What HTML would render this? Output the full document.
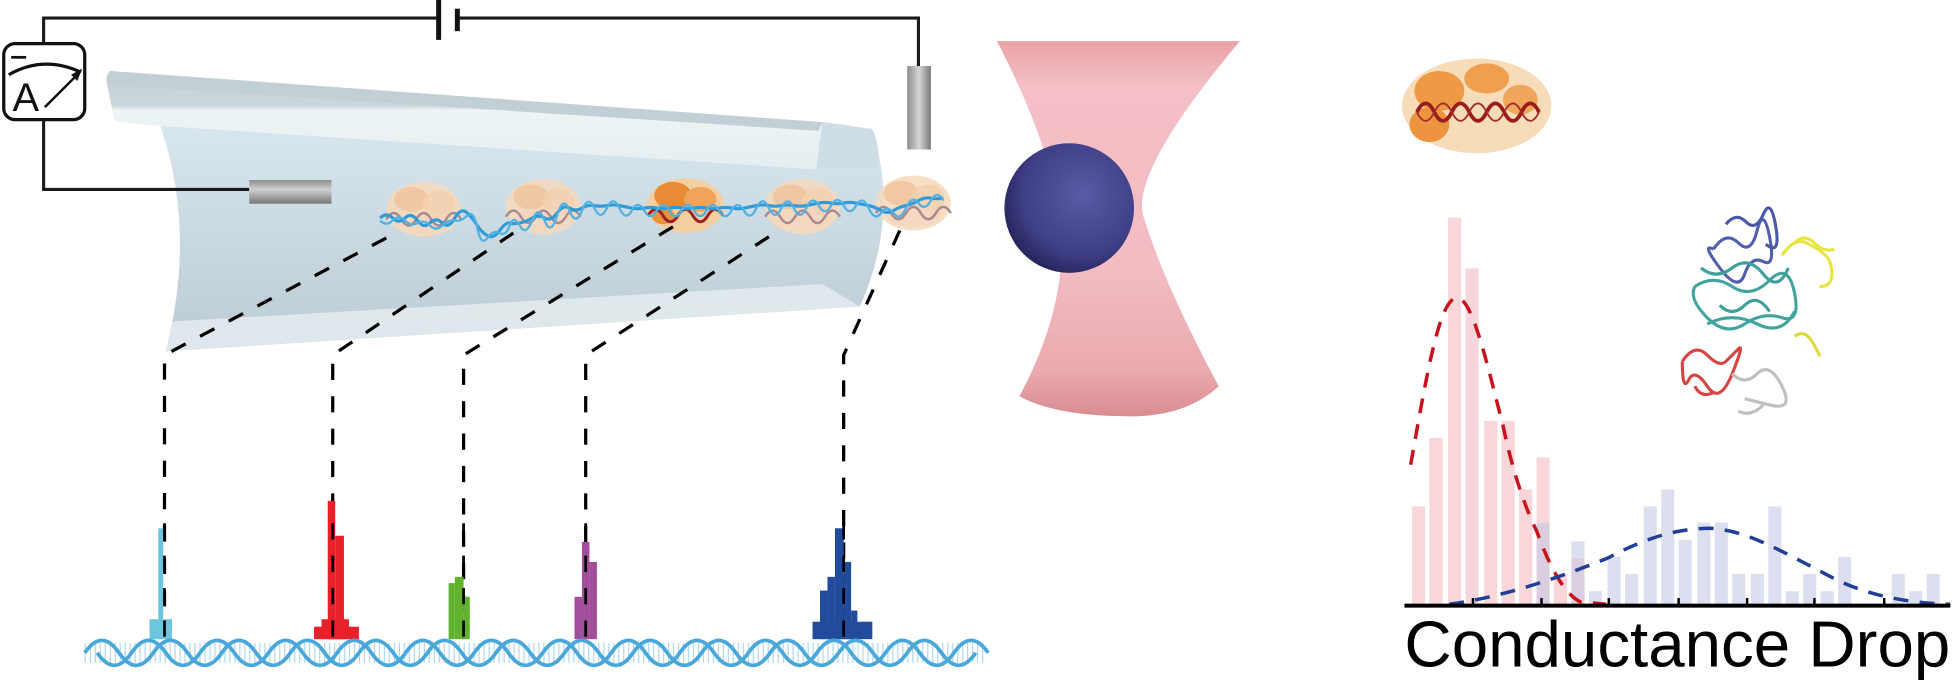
<!DOCTYPE html>
<html><head><meta charset="utf-8"><style>html,body{margin:0;padding:0;background:#fff}svg{display:block}</style></head>
<body>
<svg width="1954" height="689" viewBox="0 0 1568 553" preserveAspectRatio="none" xmlns="http://www.w3.org/2000/svg">
<defs>
<linearGradient id="body" x1="0" y1="0" x2="0" y2="1"><stop offset="0" stop-color="#d8e6ee"/><stop offset="1" stop-color="#bccbd3"/></linearGradient>
<linearGradient id="rim" x1="0" y1="0" x2="0" y2="1"><stop offset="0" stop-color="#c4d1d6"/><stop offset="0.35" stop-color="#c9d6db"/><stop offset="0.4" stop-color="#eef4f5"/><stop offset="1" stop-color="#e4eef0"/></linearGradient>
<linearGradient id="elec" x1="0" y1="0" x2="0" y2="1"><stop offset="0" stop-color="#8d8d8d"/><stop offset="0.4" stop-color="#d0d0d0"/><stop offset="1" stop-color="#777"/></linearGradient>
<linearGradient id="elecv" x1="0" y1="0" x2="1" y2="0"><stop offset="0" stop-color="#8d8d8d"/><stop offset="0.5" stop-color="#d6d6d6"/><stop offset="1" stop-color="#7a7a7a"/></linearGradient>
<linearGradient id="beam" x1="0" y1="0" x2="0" y2="1"><stop offset="0" stop-color="#e9a3a7"/><stop offset="0.12" stop-color="#f4bfc6"/><stop offset="0.6" stop-color="#f3bcc3"/><stop offset="0.88" stop-color="#eaaaae"/><stop offset="1" stop-color="#d98c90"/></linearGradient>
<radialGradient id="bead" cx="0.6" cy="0.4" r="0.65"><stop offset="0" stop-color="#5a5aa6"/><stop offset="0.7" stop-color="#3f3f86"/><stop offset="1" stop-color="#24245a"/></radialGradient>
<g id="nuc">
<ellipse cx="0" cy="0" rx="30" ry="22" fill="#f6d9bc" opacity="0.85"/>
<ellipse cx="-10" cy="-8" rx="14" ry="10" fill="#efc29a" opacity="0.8"/>
<ellipse cx="12" cy="-4" rx="13" ry="11" fill="#f2cfae" opacity="0.8"/>
<ellipse cx="0" cy="10" rx="22" ry="9" fill="#f4d6bd" opacity="0.8"/>
<path d="M-30 8 q6 -10 12 0 q6 10 12 0 q6 -10 12 0 q6 10 12 0 q6 -10 12 0" fill="none" stroke="#a98a90" stroke-width="2"/>
</g>
</defs>

<!-- tube -->
<path d="M128 99 Q158 185 133 282 L690 246 Q722 175 700 103 Z" fill="url(#body)"/>
<path d="M133 282 L690 246 L660 228 L138 258 Z" fill="#e6eef0" opacity="0.8"/>
<path d="M88 57 Q84 62 86 68 L92 97 Q110 100 128 101 L655 136 L660 98 Z" fill="url(#rim)"/>
<path d="M88 57 L660 98 L657 105 L86 68 Z" fill="#c2cfd4"/>
<path d="M655 136 L660 98 Q680 100 700 104 Q706 115 705 135 Z" fill="#cfdde4"/>

<!-- circuit -->
<g stroke="#1a1a1a" fill="none" stroke-width="2.5">
<polyline points="35,35 35,14.5 352,14.5"/>
<polyline points="367,14.5 737,14.5 737,54"/>
<polyline points="35,96 35,152 200,152"/>
</g>
<rect x="350" y="0" width="4" height="32" fill="#111"/>
<rect x="365" y="7" width="4" height="18" fill="#111"/>
<rect x="3" y="35" width="65" height="61" rx="9" fill="#fff" stroke="#111" stroke-width="2.6"/>
<line x1="9" y1="46" x2="21" y2="46" stroke="#111" stroke-width="2.2"/>
<path d="M7 60 Q35 44 65 58" fill="none" stroke="#111" stroke-width="2.5"/>
<text x="10" y="89" font-family="Liberation Sans, sans-serif" font-size="32" fill="#111">A</text>
<line x1="36" y1="86" x2="62" y2="60" stroke="#111" stroke-width="2"/>
<polygon points="66,55 57,60 62,65" fill="#111"/>

<!-- electrodes -->
<rect x="200" y="144.5" width="66" height="19" fill="url(#elec)"/>
<rect x="728" y="53" width="19" height="67" fill="url(#elecv)"/>

<!-- beam -->
<path d="M800 33 L995 33 Q905 140 918 175 Q935 230 978 310 Q950 336 900 334 Q845 333 818 318 Q860 240 850 170 Q840 110 800 33 Z" fill="url(#beam)"/>
<circle cx="858" cy="167" r="52" fill="url(#bead)"/>

<!-- nucleosomes and DNA -->
<use href="#nuc" x="340" y="168"/>
<use href="#nuc" x="436" y="166"/>
<g transform="translate(550,165)">
<ellipse cx="0" cy="0" rx="31" ry="22" fill="#f4cfa2"/>
<ellipse cx="-10" cy="-8" rx="15" ry="11" fill="#e98b35"/>
<ellipse cx="12" cy="-5" rx="13" ry="10" fill="#f0a45a"/>
<ellipse cx="-18" cy="8" rx="9" ry="7" fill="#e8943e"/>
<path d="M-30 8 q6 -10 12 0 q6 10 12 0 q6 -10 12 0 q6 10 12 0 q6 -10 12 0" fill="none" stroke="#9b2222" stroke-width="2.4"/>
</g>
<use href="#nuc" x="644" y="166"/>
<use href="#nuc" x="733" y="163"/>
<path d="M305 175 q5 -5 10 0 t10 0 t10 2 t10 2 t10 0 t10 -4 t10 -4 t8 10 t8 8 t10 -4 t8 -6 t8 0 t10 -4 t10 0 t10 -4 t10 -4 t10 0 t10 -2 t10 0 t10 0 t10 2 t10 0 t10 0 t10 0 t10 0 t10 0 t10 0 t10 0 t10 0 t10 0 t10 -2 t10 0 t10 0 t10 0 t10 0 t10 -2 t10 0 t10 0 t10 0 t10 2 t10 4 t10 0 t10 -4 t10 -4 t10 -2 t10 0" fill="none" stroke="#2f9ad8" stroke-width="2.5"/>
<path d="M305 177 q5 5 10 0 t10 0 t10 2 t10 2 t10 0 t10 -4 t10 -4 t8 10 t8 8 t10 -4 t8 -6 t8 0 t10 -4 t10 0 t10 -4 t10 -4 t10 0 t10 -2 t10 0 t10 0 t10 2 t10 0 t10 0 t10 0 t10 0 t10 0 t10 0 t10 0 t10 0 t10 0 t10 -2 t10 0 t10 0 t10 0 t10 0 t10 -2 t10 0 t10 0 t10 0 t10 2 t10 4 t10 0 t10 -4 t10 -4 t10 -2 t10 0" fill="none" stroke="#4db1e6" stroke-width="1.8"/>

<!-- dashed connectors -->
<g stroke="#000" stroke-width="2.6" fill="none" stroke-dasharray="13 13">
<polyline points="310,191 132,285 132,513"/>
<polyline points="412,187 267,285 267,513"/>
<polyline points="540,182 372,285 372,513"/>
<polyline points="617,190 470,285 470,513"/>
<polyline points="722,185 677,285 677,513"/>
</g>

<!-- peaks -->
<g fill="#6cc6df"><rect x="127" y="424" width="4" height="89"/><rect x="120" y="497" width="18" height="16"/></g>
<g fill="#e8202a"><rect x="263" y="402" width="6" height="111"/><rect x="269" y="430" width="7" height="83"/><rect x="258" y="497" width="22" height="16"/><rect x="252" y="503" width="36" height="10"/></g>
<g fill="#62b22f"><rect x="365" y="463" width="7" height="50"/><rect x="360" y="468" width="5" height="45"/><rect x="372" y="479" width="5" height="34"/></g>
<g fill="#a24e9c"><rect x="467" y="435" width="6" height="78"/><rect x="473" y="451" width="6" height="62"/><rect x="461" y="479" width="6" height="34"/></g>
<g fill="#234b9c"><rect x="670" y="424" width="7" height="89"/><rect x="677" y="451" width="6" height="62"/><rect x="664" y="463" width="6" height="50"/><rect x="658" y="474" width="6" height="39"/><rect x="683" y="490" width="5" height="23"/><rect x="652" y="499" width="48" height="14"/></g>
<g stroke="#000" stroke-width="2.2" stroke-dasharray="13 13"><line x1="132" y1="420" x2="132" y2="513"/><line x1="267" y1="420" x2="267" y2="513"/><line x1="372" y1="420" x2="372" y2="513"/><line x1="470" y1="420" x2="470" y2="513"/><line x1="677" y1="420" x2="677" y2="513"/></g>

<!-- bottom DNA helix -->
<path d="M68 524 H790" stroke="#9fd0ec" stroke-width="16" stroke-dasharray="1 3" opacity="0.8"/>
<g fill="none" stroke="#4aa7da" stroke-width="3">
<path d="M68 524 q13.75 -20 27.5 0 t27.5 0 t27.5 0 t27.5 0 t27.5 0 t27.5 0 t27.5 0 t27.5 0 t27.5 0 t27.5 0 t27.5 0 t27.5 0 t27.5 0 t27.5 0 t27.5 0 t27.5 0 t27.5 0 t27.5 0 t27.5 0 t27.5 0 t27.5 0 t27.5 0 t27.5 0 t27.5 0 t27.5 0 t27.5 0"/>
<path d="M78 524 q13.75 20 27.5 0 t27.5 0 t27.5 0 t27.5 0 t27.5 0 t27.5 0 t27.5 0 t27.5 0 t27.5 0 t27.5 0 t27.5 0 t27.5 0 t27.5 0 t27.5 0 t27.5 0 t27.5 0 t27.5 0 t27.5 0 t27.5 0 t27.5 0 t27.5 0 t27.5 0 t27.5 0 t27.5 0 t27.5 0 t27.5 0"/>
</g>

<!-- histogram -->
<g fill="#f8d6d9">
<rect x="1133" y="406.5" width="10.5" height="79.5"/><rect x="1147" y="351.5" width="10.5" height="134.5"/><rect x="1162" y="174.7" width="10.5" height="311.3"/><rect x="1176" y="215.4" width="10.5" height="270.6"/><rect x="1191" y="337.8" width="10.5" height="148.2"/><rect x="1205" y="337.8" width="10.5" height="148.2"/><rect x="1219" y="392.8" width="10.5" height="93.2"/><rect x="1233" y="367.2" width="10.5" height="118.8"/><rect x="1247" y="460.7" width="10.5" height="25.3"/><rect x="1261" y="448" width="10.5" height="38"/>
</g>
<g fill="#c6cbe6" opacity="0.6">
<rect x="1233" y="419.5" width="10.5" height="66.5"/><rect x="1261" y="434.6" width="10.5" height="51.4"/><rect x="1275" y="474.5" width="10.5" height="11.5"/><rect x="1290" y="447" width="10.5" height="39"/><rect x="1304" y="460.7" width="10.5" height="25.3"/><rect x="1319" y="406.5" width="10.5" height="79.5"/><rect x="1333" y="392.8" width="10.5" height="93.2"/><rect x="1347" y="433.2" width="10.5" height="52.8"/><rect x="1362" y="419.5" width="10.5" height="66.5"/><rect x="1376" y="419.5" width="10.5" height="66.5"/><rect x="1390" y="460.7" width="10.5" height="25.3"/><rect x="1405" y="460.7" width="10.5" height="25.3"/><rect x="1419" y="406.5" width="10.5" height="79.5"/><rect x="1433" y="474.5" width="10.5" height="11.5"/><rect x="1447" y="460.7" width="10.5" height="25.3"/><rect x="1461" y="474.5" width="10.5" height="11.5"/><rect x="1475" y="447" width="10.5" height="39"/><rect x="1518" y="460.7" width="10.5" height="25.3"/><rect x="1532" y="474.5" width="10.5" height="11.5"/><rect x="1546" y="460.7" width="10.5" height="25.3"/>
</g>
<path d="M1132 373 C1145 300 1155 240 1169 239 C1182 238 1195 300 1206 341 C1214 380 1225 410 1233 426 C1240 445 1252 475 1268 483 L1289 485" fill="none" stroke="#c9121c" stroke-width="2.8" stroke-dasharray="12 9"/>
<path d="M1163 485 C1200 480 1240 468 1290 448 C1320 432 1345 424 1373 424 C1400 426 1420 437 1473 465 C1500 478 1530 484 1565 485" fill="none" stroke="#213f95" stroke-width="2.8" stroke-dasharray="12 9"/>
<rect x="1127" y="484.5" width="438" height="3.2" fill="#000"/>
<g stroke="#000" stroke-width="2"><line x1="1182" y1="480" x2="1182" y2="485"/><line x1="1237" y1="480" x2="1237" y2="485"/><line x1="1291" y1="480" x2="1291" y2="485"/><line x1="1347" y1="480" x2="1347" y2="485"/><line x1="1402" y1="480" x2="1402" y2="485"/><line x1="1456" y1="480" x2="1456" y2="485"/><line x1="1512" y1="480" x2="1512" y2="485"/></g>
<text x="1127" y="535" font-family="Liberation Sans, sans-serif" font-size="52" fill="#000" textLength="438" lengthAdjust="spacingAndGlyphs">Conductance Drop</text>

<!-- protein icons -->
<g transform="translate(1185,85)">
<ellipse cx="0" cy="0" rx="60" ry="38" fill="#f6dcb8"/>
<ellipse cx="-30" cy="-12" rx="20" ry="16" fill="#ee9a45"/>
<ellipse cx="8" cy="-22" rx="18" ry="12" fill="#ef9f4f"/>
<ellipse cx="-38" cy="15" rx="16" ry="14" fill="#ec9440"/>
<ellipse cx="35" cy="-5" rx="14" ry="12" fill="#f0a75b"/>
<path d="M-48 5 q7 -14 14 0 q7 14 14 0 q7 -14 14 0 q7 14 14 0 q7 -14 14 0 q7 14 14 0 q7 -14 14 0" fill="none" stroke="#9b1c1c" stroke-width="3"/>
<path d="M-48 5 q7 14 14 0 q7 -14 14 0 q7 14 14 0 q7 -14 14 0 q7 14 14 0 q7 -14 14 0 q7 14 14 0" fill="none" stroke="#a52a2a" stroke-width="1.5"/>
</g>
<g fill="none" stroke-width="2.5" opacity="0.85">
<path d="M1375 200 q10 -15 20 -5 t15 -10 t10 5 t-5 20 t-15 10 t-20 -5 t-5 -15" stroke="#3344a0"/>
<path d="M1385 180 q8 -10 16 -2 t14 -6 t10 10 t-8 14" stroke="#2b3d9a"/>
<path d="M1360 230 q15 -10 30 0 t30 -5 t20 10 t-10 20 t-30 5 t-30 -5 t-10 -25 M1370 260 q20 -10 40 0 t30 -10" stroke="#22958c"/>
<path d="M1365 215 q12 10 25 0 t25 5 t20 -5 M1380 245 q10 10 20 0 t20 5" stroke="#1f8f8a"/>
<path d="M1430 205 q10 -15 20 -10 t15 10 t5 15 t-10 10 M1440 195 q8 -8 16 0 t16 5" stroke="#e3e21f"/>
<path d="M1440 270 q8 -6 14 4 t6 12" stroke="#d9d11e"/>
<path d="M1350 290 q10 -15 20 -5 t15 5 t10 -10 t-5 20 t-20 10 t-15 -5 t-5 -15 M1360 310 q5 10 15 5" stroke="#d02424"/>
<path d="M1390 300 q10 10 20 0 t20 10 t-10 15 t-20 -5 M1395 330 q10 5 20 -5" stroke="#b5b5b5"/>
</g>
</svg>
</body></html>
